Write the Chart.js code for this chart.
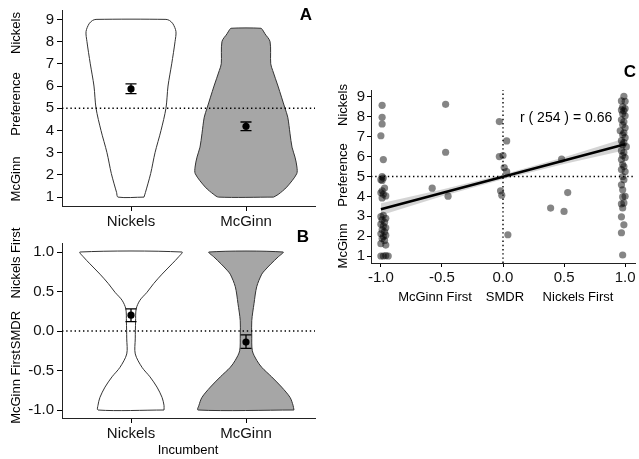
<!DOCTYPE html>
<html>
<head>
<meta charset="utf-8">
<script src="https://cdn.jsdelivr.net/npm/chart.js@4/dist/chart.umd.min.js"></script>
<style>
  body { margin: 0; background: #fff; }
  #wrap { position: relative; width: 639px; height: 459px; }
  canvas { position: absolute; }
</style>
</head>
<body>
<div id="wrap">
  <canvas id="chartA" width="320" height="230" style="left:0;top:0"></canvas>
  <canvas id="chartB" width="320" height="244" style="left:0;top:215px"></canvas>
  <canvas id="chartC" width="319" height="260" style="left:320px;top:60px"></canvas>
</div>
<script>
var incumbents = ['Nickels', 'McGinn'];
var prefTicks = [1, 2, 3, 4, 5, 6, 7, 8, 9];
var smdrTicks = [-1, -0.5, 0, 0.5, 1];

// violin outlines: level and half width (category units)
var prefLevelsNickels = [1, 1.2, 2.06, 3, 4, 5, 6, 7, 8, 8.45, 8.8, 8.95, 9];
var prefHalfNickels = [0.113, 0.125, 0.171, 0.209, 0.261, 0.304, 0.322, 0.354, 0.383, 0.391, 0.365, 0.335, 0.304];
var prefLevelsMcGinn = [1, 1.12, 1.45, 2.05, 2.35, 2.8, 3.25, 3.85, 4.6, 5, 6, 6.7, 7, 8, 8.35, 8.52, 8.6];
var prefHalfMcGinn = [0.239, 0.28, 0.354, 0.441, 0.443, 0.426, 0.4, 0.383, 0.363, 0.339, 0.278, 0.232, 0.215, 0.209, 0.165, 0.145, 0.13];
var prefMean = [5.87, 4.19];
var prefLow = [5.66, 3.99];
var prefHigh = [6.1, 4.38];

var smdrLevelsNickels = [-1, -0.94, -0.84, -0.71, -0.58, -0.46, -0.29, -0.1, 0.12, 0.28, 0.39, 0.49, 0.6, 0.72, 0.85, 0.94, 1];
var smdrHalfNickels = [0.287, 0.287, 0.27, 0.226, 0.165, 0.096, 0.037, 0.037, 0.04, 0.045, 0.078, 0.139, 0.197, 0.27, 0.357, 0.415, 0.443];
var smdrLevelsMcGinn = [-1, -0.94, -0.84, -0.71, -0.58, -0.46, -0.37, -0.25, -0.05, 0.13, 0.35, 0.56, 0.72, 0.77, 0.85, 0.94, 1];
var smdrHalfMcGinn = [0.417, 0.409, 0.383, 0.31, 0.223, 0.137, 0.093, 0.055, 0.05, 0.05, 0.07, 0.093, 0.137, 0.165, 0.217, 0.281, 0.322];
var smdrMean = [0.2, -0.14];
var smdrLow = [0.12, -0.22];
var smdrHigh = [0.28, -0.05];

// panel C points (SMDR, preference)
var pointSmdr = [
  -0.99, -0.99, -0.99, -1.0, -0.98, -0.99, -0.98, -1.0, -0.99, -0.97, -0.99, -1.0, -0.98, -0.96, -0.99, -0.98, -1.0, -0.96,
  -0.99, -0.97, -1.0, -0.98, -0.96, -0.99, -0.97, -1.0, -0.96, -0.98, -0.99, -0.97, -1.0, -0.96, -1.0, -0.98, -0.96, -0.94,
  -0.47, -0.47, -0.58, -0.45, -0.03, 0.03, -0.03, 0.0, 0.01, 0.03, -0.02, -0.01, 0.04, 0.48, 0.39, 0.5, 0.53,
  0.99, 0.97, 1.0, 0.98, 1.0, 0.97, 0.99, 0.98, 1.0, 0.97, 0.99, 0.98, 1.0, 0.96, 0.99, 0.98, 1.0, 0.97, 0.99, 0.98, 1.01, 0.97,
  0.99, 0.98, 1.0, 0.97, 0.98, 0.99, 0.97, 1.0, 0.98, 0.99, 0.97, 0.98, 1.0, 0.98, 0.99, 0.97, 0.98, 0.97, 0.99, 0.97, 0.98
];
var pointPref = [
  8.58, 7.98, 7.64, 7.05, 5.85, 5.0, 4.92, 4.84, 4.8, 4.42, 4.28, 4.18, 4.1, 4.02, 3.92, 3.05, 2.98, 2.9,
  2.82, 2.7, 2.6, 2.5, 2.42, 2.32, 2.22, 2.12, 2.05, 1.98, 1.88, 1.78, 1.62, 1.55, 1.0, 1.0, 1.02, 1.0,
  8.63, 6.22, 4.41, 4.01, 7.76, 6.79, 6.0, 6.05, 5.45, 5.25, 4.28, 4.06, 2.07, 5.88, 3.41, 3.24, 4.19,
  9.03, 8.8, 8.78, 8.5, 8.42, 8.35, 8.3, 8.15, 8.05, 7.85, 7.75, 7.6, 7.45, 7.3, 7.2, 7.1, 6.95, 6.8, 6.7, 6.6, 6.5, 6.3,
  6.2, 6.05, 5.95, 5.85, 5.6, 5.5, 5.35, 5.25, 5.0, 4.83, 4.58, 4.33, 4.0, 3.97, 3.67, 3.62, 3.42, 2.97, 2.57, 2.17, 1.05
];
var fitSmdr = [-1, -0.5, 0, 0.5, 1];
var fitPref = [3.35, 4.17, 4.985, 5.8, 6.62];
var fitLow = [3.05, 4.0, 4.865, 5.63, 6.32];
var fitHigh = [3.65, 4.34, 5.105, 5.97, 6.92];

Chart.defaults.font.family = '"Liberation Sans", Arial, sans-serif';
Chart.defaults.color = '#111';

var FONT = '"Liberation Sans", Arial, sans-serif';

// draws the free text of each panel (titles, panel letters)
var panelText = {
  id: 'panelText',
  afterDraw: function(chart, args, opts) {
    var ctx = chart.ctx;
    (opts.items || []).forEach(function(t) {
      ctx.save();
      ctx.translate(t.x, t.y);
      if (t.rot) ctx.rotate(-Math.PI / 2);
      ctx.font = t.font;
      ctx.fillStyle = '#000';
      ctx.textAlign = t.align || 'center';
      ctx.textBaseline = 'middle';
      ctx.fillText(t.text, 0, 0);
      ctx.restore();
    });
  }
};

function violin(center, levels, half) {
  var pts = [];
  for (var i = 0; i < levels.length; i++) pts.push({x: center + half[i], y: levels[i]});
  for (var j = levels.length - 1; j >= 0; j--) pts.push({x: center - half[j], y: levels[j]});
  pts.push(pts[0]);
  return pts;
}

function errorBar(c, lo, hi) {
  var w = 0.048;
  return [
    {x: c - w, y: hi}, {x: c + w, y: hi}, {x: c, y: null},
    {x: c, y: hi}, {x: c, y: lo}, {x: c, y: null},
    {x: c - w, y: lo}, {x: c + w, y: lo}
  ];
}

function axisStyle() {
  return {
    grid: {display: true, drawOnChartArea: false, drawTicks: true, tickLength: 5, color: '#000', lineWidth: 1},
    border: {display: true, color: '#222', width: 1}
  };
}

function violinPanel(id, levN, halfN, levM, halfM, mean, low, high, ref, yMin, yMax, yTicks, fmt, xHeight, padTop, texts) {
  var ds = [];
  ds.push({data: [{x: 0.4, y: ref}, {x: 2.6, y: ref}], borderColor: '#000', borderWidth: 1.4,
           borderDash: [1.4, 2.8], pointRadius: 0, fill: false, order: 0});
  ds.push({data: mean.map(function(m, i) { return {x: i + 1, y: m}; }), showLine: false,
           pointRadius: 3.6, pointBackgroundColor: '#000', pointBorderWidth: 0, order: 1});
  for (var i = 0; i < 2; i++) {
    ds.push({data: errorBar(i + 1, low[i], high[i]), borderColor: '#000', borderWidth: 1.3,
             pointRadius: 0, fill: false, spanGaps: false, order: 2});
  }
  ds.push({data: violin(1, levN, halfN), borderColor: '#333', borderWidth: 1, backgroundColor: '#ffffff',
           fill: 'shape', pointRadius: 0, tension: 0.3, order: 5});
  ds.push({data: violin(2, levM, halfM), borderColor: '#333', borderWidth: 1, backgroundColor: '#a6a6a6',
           fill: 'shape', pointRadius: 0, tension: 0.3, order: 6});

  var xs = axisStyle();
  xs.type = 'linear'; xs.min = 0.4; xs.max = 2.6;
  xs.afterBuildTicks = function(s) { s.ticks = [{value: 1}, {value: 2}]; };
  xs.afterFit = function(s) { s.height = xHeight; };
  xs.ticks = {font: {size: 15}, padding: 2, callback: function(v) { return incumbents[v - 1]; }};

  var ys = axisStyle();
  ys.type = 'linear'; ys.min = yMin; ys.max = yMax;
  ys.afterBuildTicks = function(s) { s.ticks = yTicks.map(function(v) { return {value: v}; }); };
  ys.afterFit = function(s) { s.width = 62; };
  ys.ticks = {font: {size: 15, lineHeight: 1}, padding: 3, callback: fmt};

  return new Chart(document.getElementById(id), {
    type: 'line',
    data: {datasets: ds},
    options: {
      responsive: false, animation: false,
      layout: {padding: {top: padTop, right: 5, left: 0, bottom: 0}},
      plugins: {legend: {display: false}, tooltip: {enabled: false}, panelText: {items: texts}},
      scales: {x: xs, y: ys}
    },
    plugins: [panelText]
  });
}

violinPanel('chartA', prefLevelsNickels, prefHalfNickels, prefLevelsMcGinn, prefHalfMcGinn,
  prefMean, prefLow, prefHigh, 5, 0.6, 9.4, prefTicks, function(v) { return String(v); }, 24, 10, [
    {text: 'Nickels', x: 16, y: 33, rot: true, font: '13px ' + FONT},
    {text: 'Preference', x: 16, y: 104, rot: true, font: '13px ' + FONT},
    {text: 'McGinn', x: 16, y: 179, rot: true, font: '13px ' + FONT},
    {text: 'A', x: 306, y: 15, font: 'bold 17px ' + FONT}
  ]);

violinPanel('chartB', smdrLevelsNickels, smdrHalfNickels, smdrLevelsMcGinn, smdrHalfMcGinn,
  smdrMean, smdrLow, smdrHigh, 0, -1.101, 1.114, smdrTicks, function(v) { return v.toFixed(1); }, 41, 28, [
    {text: 'Nickels First', x: 16, y: 48, rot: true, font: '13px ' + FONT},
    {text: 'SMDR', x: 16, y: 115, rot: true, font: '13px ' + FONT},
    {text: 'McGinn First', x: 16, y: 172, rot: true, font: '13px ' + FONT},
    {text: 'B', x: 303, y: 22, font: 'bold 17px ' + FONT},
    {text: 'Incumbent', x: 188, y: 235, font: '13px ' + FONT}
  ]);

// panel C
var cx = axisStyle();
cx.type = 'linear'; cx.min = -1.081; cx.max = 1.081;
cx.afterBuildTicks = function(s) { s.ticks = smdrTicks.map(function(v) { return {value: v}; }); };
cx.afterFit = function(s) { s.height = 57; };
cx.ticks = {font: {size: 15}, padding: 2, callback: function(v) { return v.toFixed(1); }};
var cy = axisStyle();
cy.type = 'linear'; cy.min = 0.648; cy.max = 9.35;
cy.afterBuildTicks = function(s) { s.ticks = prefTicks.map(function(v) { return {value: v}; }); };
cy.afterFit = function(s) { s.width = 51; };
cy.ticks = {font: {size: 15, lineHeight: 1}, padding: 2};
cx.grid.tickLength = 4; cy.grid.tickLength = 4;

new Chart(document.getElementById('chartC'), {
  type: 'line',
  data: {datasets: [
    {data: [{x: -1.081, y: 5}, {x: 1.081, y: 5}], borderColor: '#000', borderWidth: 1.4,
     borderDash: [1.4, 2.8], pointRadius: 0, fill: false, order: 0},
    {data: [{x: 0, y: 0.648}, {x: 0, y: 9.35}], borderColor: '#000', borderWidth: 1.4,
     borderDash: [1.4, 2.8], pointRadius: 0, fill: false, order: 0},
    {data: fitSmdr.map(function(x, i) { return {x: x, y: fitPref[i]}; }), borderColor: '#000',
     borderWidth: 2.6, pointRadius: 0, fill: false, order: 1},
    {data: fitSmdr.map(function(x, i) { return {x: x, y: fitHigh[i]}; }), borderWidth: 0,
     backgroundColor: 'rgba(0,0,0,0.17)', pointRadius: 0, fill: '+1', order: 2},
    {data: fitSmdr.map(function(x, i) { return {x: x, y: fitLow[i]}; }), borderWidth: 0,
     pointRadius: 0, fill: false, order: 2},
    {data: pointSmdr.map(function(x, i) { return {x: x, y: pointPref[i]}; }), showLine: false,
     pointRadius: 3.6, pointBackgroundColor: 'rgba(0,0,0,0.48)', pointBorderWidth: 0, order: 3}
  ]},
  options: {
    responsive: false, animation: false,
    layout: {padding: {top: 30, right: 0, left: 0, bottom: 0}},
    plugins: {legend: {display: false}, tooltip: {enabled: false}, panelText: {items: [
      {text: 'Nickels', x: 23, y: 45, rot: true, font: '13px ' + FONT},
      {text: 'Preference', x: 23, y: 115, rot: true, font: '13px ' + FONT},
      {text: 'McGinn', x: 23, y: 186, rot: true, font: '13px ' + FONT},
      {text: 'C', x: 310, y: 12, font: 'bold 17px ' + FONT},
      {text: 'r ( 254 ) = 0.66', x: 200, y: 58, align: 'left', font: '14px ' + FONT},
      {text: 'McGinn First', x: 115, y: 237, font: '13px ' + FONT},
      {text: 'SMDR', x: 185, y: 237, font: '13px ' + FONT},
      {text: 'Nickels First', x: 258, y: 237, font: '13px ' + FONT}
    ]}},
    scales: {x: cx, y: cy}
  },
  plugins: [panelText]
});
</script>
</body>
</html>
